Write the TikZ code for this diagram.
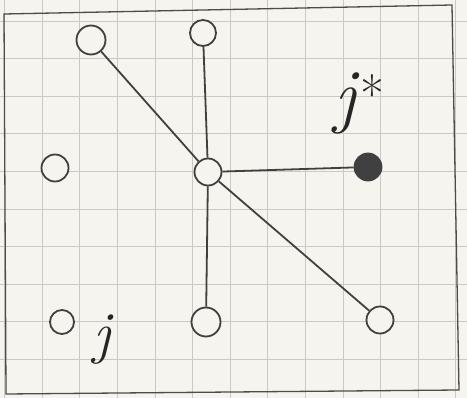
\documentclass[tikz,border=0pt]{standalone}
\begin{document}
\begin{tikzpicture}[x=1pt,y=-1pt,
  ink/.style={draw=black!75, line width=1.8pt},
  vert/.style={circle, ink, minimum size=27pt, inner sep=0pt, fill=paper},
  lbl/.style={text=black!85, inner sep=0pt}]
\definecolor{paper}{HTML}{F6F4EE}
\definecolor{gridc}{HTML}{C9C9C6}
\useasboundingbox (0,0) rectangle (467,398);
\fill[paper] (0,0) rectangle (467,398);
\foreach \i in {0,...,11} \draw[gridc, line width=0.6pt] ({42+37.6*\i},0) -- ({42+37.6*\i},398);
\draw[gridc, line width=0.6pt] (4.4,0) -- (4.4,398);
\foreach \i in {0,...,9} \draw[gridc, line width=0.6pt] (0,{21+37.6*\i}) -- (467,{21+37.6*\i});
% frame
\draw[black!70, line width=1.3pt] (4,14) -- (452,5) -- (459,390) -- (6,394) -- cycle;
% nodes
\node[vert, minimum size=29pt] (tl) at (91,40) {};
\node[vert, minimum size=26pt] (tm) at (203,33) {};
\node[vert] (l) at (55,168) {};
\node[vert] (c) at (208,172) {};
\node[vert, fill=black!75] (s) at (368,167) {};
\node[vert, minimum size=29pt] (bm) at (206,322) {};
\node[vert] (br) at (380,320) {};
\node[vert, minimum size=24pt] (bl) at (62,322) {};
% edges
\draw[ink] (tl) -- (c);
\draw[ink] (tm) -- (c);
\draw[ink] (c) -- (s);
\draw[ink] (c) -- (bm);
\draw[ink] (c) -- (br);
% labels
\node[lbl, font=\fontsize{72}{72}\selectfont\itshape] (js) at (345,103) {j};
\node[lbl, font=\fontsize{52}{52}\selectfont] (st) at (372,94) {*};
\node[lbl, font=\fontsize{58}{58}\selectfont\itshape] (j) at (102,340) {j};
\end{tikzpicture}
\end{document}
